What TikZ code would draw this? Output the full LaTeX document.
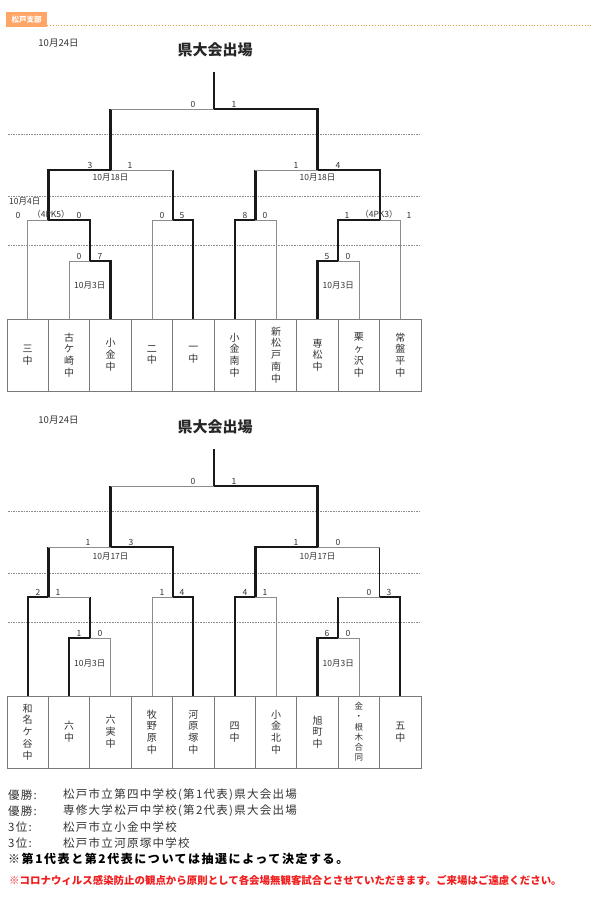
\documentclass[tikz,border=0pt]{standalone}
\usepackage{fontspec}
\setmainfont{Noto Sans CJK JP}
\newfontfamily\listfont[LetterSpace=11]{Noto Sans CJK JP}
\newfontfamily\notefont[LetterSpace=13]{Noto Sans CJK JP}
\definecolor{TabOrange}{HTML}{FFA566}
\definecolor{DotOrange}{HTML}{E8A33D}
\definecolor{LineGray}{HTML}{8C8C8C}
\definecolor{BoxGray}{HTML}{7A7A7A}
\definecolor{TextGray}{HTML}{333333}
\definecolor{NoteRed}{HTML}{F01E1E}

\begin{document}
\begin{tikzpicture}[
    x=1pt,
    y=-1pt,
    win/.style={line width=2.2pt, black!90},
    lose/.style={line width=0.8pt, LineGray},
    guide/.style={line width=0.6pt, LineGray, dash pattern=on 1.6pt off 1pt},
    team/.style={draw=BoxGray, line width=0.8pt, minimum width=41.4pt,
        minimum height=72pt, inner sep=0pt, align=center, text=TextGray,
        font=\fontsize{10}{11.8}\selectfont},
    score/.style={anchor=south, inner sep=1.2pt, text=TextGray,
        font=\fontsize{8.5}{8.5}\selectfont},
    date/.style={inner sep=0pt, text=TextGray, font=\fontsize{8.5}{8.5}\selectfont},
    heading/.style={text=black!85, font=\bfseries\fontsize{15}{15}\selectfont},
    listtext/.style={anchor=west, inner sep=0pt, text=TextGray,
        font=\listfont\fontsize{11.5}{11.5}\selectfont}
]

\useasboundingbox (0,0) rectangle (591,901);

% =====================================================
% HEADER TAB
% =====================================================
\node[
    fill=TabOrange,
    text=white,
    inner sep=0pt,
    minimum width=41pt,
    minimum height=15pt,
    font=\bfseries\fontsize{7.5}{7.5}\selectfont
]
(tab)
at (26.5,19.5)
{松戸支部};

\coordinate (rule-end) at (591,25);
\draw[DotOrange, line width=0.8pt, dotted] (tab.east |- rule-end) -- (rule-end);

% =====================================================
% DASHED GUIDES
% =====================================================
\foreach \y in {134,196,245,511,573,622}{
    \draw[guide] (8,\y) -- (421,\y);
}

% =====================================================
% TOP BRACKET
% =====================================================
\node[date, font=\fontsize{9.5}{9.5}\selectfont] (day-a) at (58.5,43) {10月24日};
\node[heading] (head-a) at (215,50) {県大会出場};

\node[team] (t1) at (27.7,355) {三\\中};
\node[team] (t2) at (69.1,355) {古\\ケ\\崎\\中};
\node[team] (t3) at (110.5,355) {小\\金\\中};
\node[team] (t4) at (151.9,355) {二\\中};
\node[team] (t5) at (193.3,355) {一\\中};
\node[team] (t6) at (234.7,355) {小\\金\\南\\中};
\node[team] (t7) at (276.1,355) {新\\松\\戸\\南\\中};
\node[team] (t8) at (317.5,355) {専\\松\\中};
\node[team] (t9) at (358.9,355) {栗\\ヶ\\沢\\中};
\node[team] (t10) at (400.3,355) {常\\盤\\平\\中};

% match points
\coordinate (champ-a) at (214,72);
\coordinate (fa) at (214,109);
\coordinate (sa) at (110.5,170);
\coordinate (sb) at (317.5,170);
\coordinate (qa) at (48.4,220);
\coordinate (qb) at (172.6,220);
\coordinate (qc) at (255.4,220);
\coordinate (qd) at (379.6,220);
\coordinate (ra) at (89.8,261);
\coordinate (rb) at (338.2,261);

% left half
\draw[lose] (t1.north) |- (qa);
\draw[lose] (t2.north) |- (ra);
\draw[win] (t3.north) |- (ra);
\draw[win] (ra) |- (qa);
\draw[win] (qa) |- (sa);
\draw[lose] (t4.north) |- (qb);
\draw[win] (t5.north) |- (qb);
\draw[win] (qb) -- (qb |- sa);
\draw[lose] (qb |- sa) -- (sa);
\draw[win] (sa) -- (sa |- fa);
\draw[lose] (sa |- fa) -- (fa);

% right half
\draw[win] (t6.north) |- (qc);
\draw[lose] (t7.north) |- (qc);
\draw[win] (t8.north) |- (rb);
\draw[lose] (t9.north) |- (rb);
\draw[win] (rb) |- (qd);
\draw[lose] (t10.north) |- (qd);
\draw[win] (qc) -- (qc |- sb);
\draw[lose] (qc |- sb) -- (sb);
\draw[win] (qd) |- (sb);
\draw[win] (sb) |- (fa);
\draw[win] (fa) -- (champ-a);

% scores
\node[score] (fa-l) at (193,109) {0};
\node[score] (fa-r) at (234,109) {1};
\node[score] (sa-l) at (90,170) {3};
\node[score] (sa-r) at (130,170) {1};
\node[score] (sb-l) at (296,170) {1};
\node[score] (sb-r) at (338,170) {4};
\node[score] (qa-l) at (18,220) {0};
\node[score] (qa-pk) at (51,220) {（4PK5）};
\node[score] (qa-r) at (79,220) {0};
\node[score] (qb-l) at (162,220) {0};
\node[score] (qb-r) at (182,220) {5};
\node[score] (qc-l) at (245,220) {8};
\node[score] (qc-r) at (265,220) {0};
\node[score] (qd-l) at (347,220) {1};
\node[score] (qd-pk) at (379,220) {（4PK3）};
\node[score] (qd-r) at (409,220) {1};
\node[score] (ra-l) at (79,261) {0};
\node[score] (ra-r) at (100,261) {7};
\node[score] (rb-l) at (327,261) {5};
\node[score] (rb-r) at (348,261) {0};

% dates
\node[date] (sa-day) at ([yshift=-8pt]sa) {10月18日};
\node[date] (sb-day) at ([yshift=-8pt]sb) {10月18日};
\node[date, anchor=west] (qa-day) at (9,202) {10月4日};
\node[date] (ra-day) at ([yshift=-24pt]ra) {10月3日};
\node[date] (rb-day) at ([yshift=-24pt]rb) {10月3日};

% =====================================================
% BOTTOM BRACKET
% =====================================================
\node[date, font=\fontsize{9.5}{9.5}\selectfont] (day-b) at (58.5,420) {10月24日};
\node[heading] (head-b) at (215,427) {県大会出場};

\node[team] (b1) at (27.7,732) {和\\名\\ケ\\谷\\中};
\node[team] (b2) at (69.1,732) {六\\中};
\node[team] (b3) at (110.5,732) {六\\実\\中};
\node[team] (b4) at (151.9,732) {牧\\野\\原\\中};
\node[team] (b5) at (193.3,732) {河\\原\\塚\\中};
\node[team] (b6) at (234.7,732) {四\\中};
\node[team] (b7) at (276.1,732) {小\\金\\北\\中};
\node[team] (b8) at (317.5,732) {旭\\町\\中};
\node[team, font=\fontsize{8.5}{10.3}\selectfont] (b9) at (358.9,732) {金\\・\\根\\木\\合\\同};
\node[team] (b10) at (400.3,732) {五\\中};

% match points
\coordinate (champ-b) at (214,449);
\coordinate (fb) at (214,486);
\coordinate (sc) at (110.5,547);
\coordinate (sd) at (317.5,547);
\coordinate (qe) at (48.4,597);
\coordinate (qf) at (172.6,597);
\coordinate (qg) at (255.4,597);
\coordinate (qh) at (379.6,597);
\coordinate (rc) at (89.8,638);
\coordinate (rd) at (338.2,638);

% left half
\draw[win] (b1.north) |- (qe);
\draw[win] (b2.north) |- (rc);
\draw[lose] (b3.north) |- (rc);
\draw[win] (rc) -- (rc |- qe);
\draw[lose] (rc |- qe) -- (qe);
\draw[win] (qe) -- (qe |- sc);
\draw[lose] (qe |- sc) -- (sc);
\draw[lose] (b4.north) |- (qf);
\draw[win] (b5.north) |- (qf);
\draw[win] (qf) |- (sc);
\draw[win] (sc) -- (sc |- fb);
\draw[lose] (sc |- fb) -- (fb);

% right half
\draw[win] (b6.north) |- (qg);
\draw[lose] (b7.north) |- (qg);
\draw[win] (b8.north) |- (rd);
\draw[lose] (b9.north) |- (rd);
\draw[win] (rd) -- (rd |- qh);
\draw[lose] (rd |- qh) -- (qh);
\draw[win] (b10.north) |- (qh);
\draw[win] (qg) |- (sd);
\draw[win, line width=1.6pt] (qh) -- (qh |- sd);
\draw[lose] (qh |- sd) -- (sd);
\draw[win] (sd) |- (fb);
\draw[win] (fb) -- (champ-b);

% scores
\node[score] (fb-l) at (193,486) {0};
\node[score] (fb-r) at (234,486) {1};
\node[score] (sc-l) at (88,547) {1};
\node[score] (sc-r) at (131,547) {3};
\node[score] (sd-l) at (296,547) {1};
\node[score] (sd-r) at (338,547) {0};
\node[score] (qe-l) at (38,597) {2};
\node[score] (qe-r) at (58,597) {1};
\node[score] (qf-l) at (162,597) {1};
\node[score] (qf-r) at (182,597) {4};
\node[score] (qg-l) at (245,597) {4};
\node[score] (qg-r) at (265,597) {1};
\node[score] (qh-l) at (369,597) {0};
\node[score] (qh-r) at (389,597) {3};
\node[score] (rc-l) at (79,638) {1};
\node[score] (rc-r) at (100,638) {0};
\node[score] (rd-l) at (327,638) {6};
\node[score] (rd-r) at (348,638) {0};

% dates
\node[date] (sc-day) at ([yshift=-9pt]sc) {10月17日};
\node[date] (sd-day) at ([yshift=-9pt]sd) {10月17日};
\node[date] (rc-day) at ([yshift=-25pt]rc) {10月3日};
\node[date] (rd-day) at ([yshift=-25pt]rd) {10月3日};

% =====================================================
% RESULTS
% =====================================================
\node[listtext] (res1-lab) at (8,795) {優勝:};
\node[listtext] (res1-txt) at (63,795) {松戸市立第四中学校(第1代表)県大会出場};
\node[listtext] (res2-lab) at (8,811) {優勝:};
\node[listtext] (res2-txt) at (63,811) {専修大学松戸中学校(第2代表)県大会出場};
\node[listtext] (res3-lab) at (8,827) {3位:};
\node[listtext] (res3-txt) at (63,827) {松戸市立小金中学校};
\node[listtext] (res4-lab) at (8,843) {3位:};
\node[listtext] (res4-txt) at (63,843) {松戸市立河原塚中学校};

\node[
    listtext,
    text=black,
    font=\notefont\bfseries\fontsize{12}{12}\selectfont
]
(draw-note)
at (8,859)
{※第1代表と第2代表については抽選によって決定する。};

\node[
    anchor=west,
    inner sep=0pt,
    text=NoteRed,
    font=\bfseries\fontsize{10.45}{10.45}\selectfont
]
(covid-note)
at (9,880)
{※コロナウィルス感染防止の観点から原則として各会場無観客試合とさせていただきます。ご来場はご遠慮ください。};

\end{tikzpicture}
\end{document}
